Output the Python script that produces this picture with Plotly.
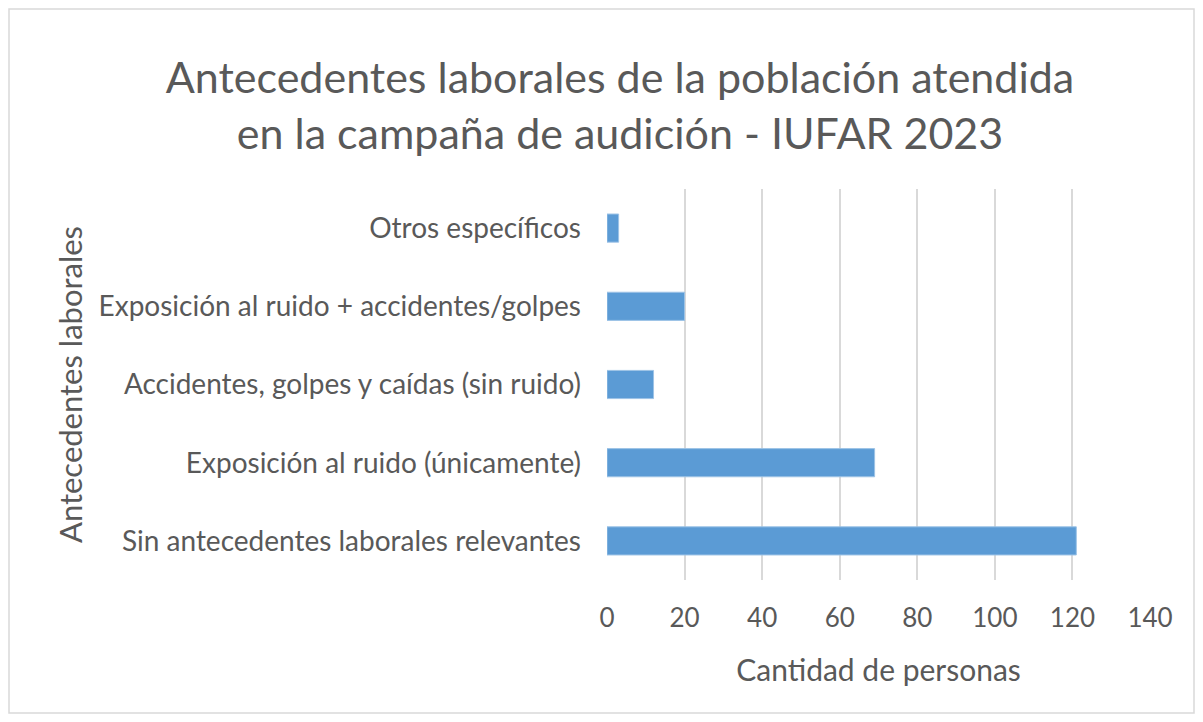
import plotly.graph_objects as go

categories = [
    "Sin antecedentes laborales relevantes",
    "Exposición al ruido (únicamente)",
    "Accidentes, golpes y caídas (sin ruido)",
    "Exposición al ruido + accidentes/golpes",
    "Otros específicos",
]
values = [121, 69, 12, 20, 3]
x_ticks = [0, 20, 40, 60, 80, 100, 120, 140]

title_text = "Antecedentes laborales de la población atendida<br>en la campaña de audición - IUFAR 2023"
x_title = "Cantidad de personas"
y_title = "Antecedentes laborales"

FONT = "Lato"
GRAY = "#595959"

fig = go.Figure(go.Bar(
    x=values, y=categories, orientation="h",
    marker=dict(color="#5B9BD5", line=dict(color="#9DC3E6", width=1)),
    width=0.36,
))

OFF = 8  # page body margin
W, H = 1187, 706
L, R, T, B = 599, 45, 181, 134
pw, ph = W - L - R, H - T - B

fig.update_layout(
    width=W, height=H,
    margin=dict(l=L, r=R, t=T, b=B),
    paper_bgcolor="white", plot_bgcolor="white",
    font=dict(family=FONT, color=GRAY),
    title=dict(text=title_text, x=(620 - OFF) / W, xanchor="center", y=1 - (93 - OFF) / H, yanchor="middle",
               font=dict(size=43, color=GRAY, family=FONT)),
    xaxis=dict(range=[0, 140], tickvals=x_ticks, showgrid=True, gridcolor="#D9D9D9", gridwidth=1.5,
               zeroline=False, showline=False, tickfont=dict(size=26, color=GRAY),
               ticklabelstandoff=20,
               title=dict(text=x_title, font=dict(size=30, color=GRAY), standoff=27)),
    yaxis=dict(showgrid=False, zeroline=False, showline=False, tickfont=dict(size=28, color=GRAY),
               ticklabelstandoff=25, range=[-0.5, 4.5],
               title=dict(text=y_title, font=dict(size=31, color=GRAY), standoff=6)),
    showlegend=False,
    bargap=0.6,
)

# outer border of the chart area
fig.add_shape(type="rect", xref="paper", yref="paper",
              x0=(1 - L) / pw, x1=(W - 1 - L) / pw,
              y0=(-(B - 1)) / ph, y1=(H - B - 1) / ph,
              line=dict(color="#D9D9D9", width=1.5), fillcolor="rgba(0,0,0,0)", layer="below")

fig.write_html("out.html")
